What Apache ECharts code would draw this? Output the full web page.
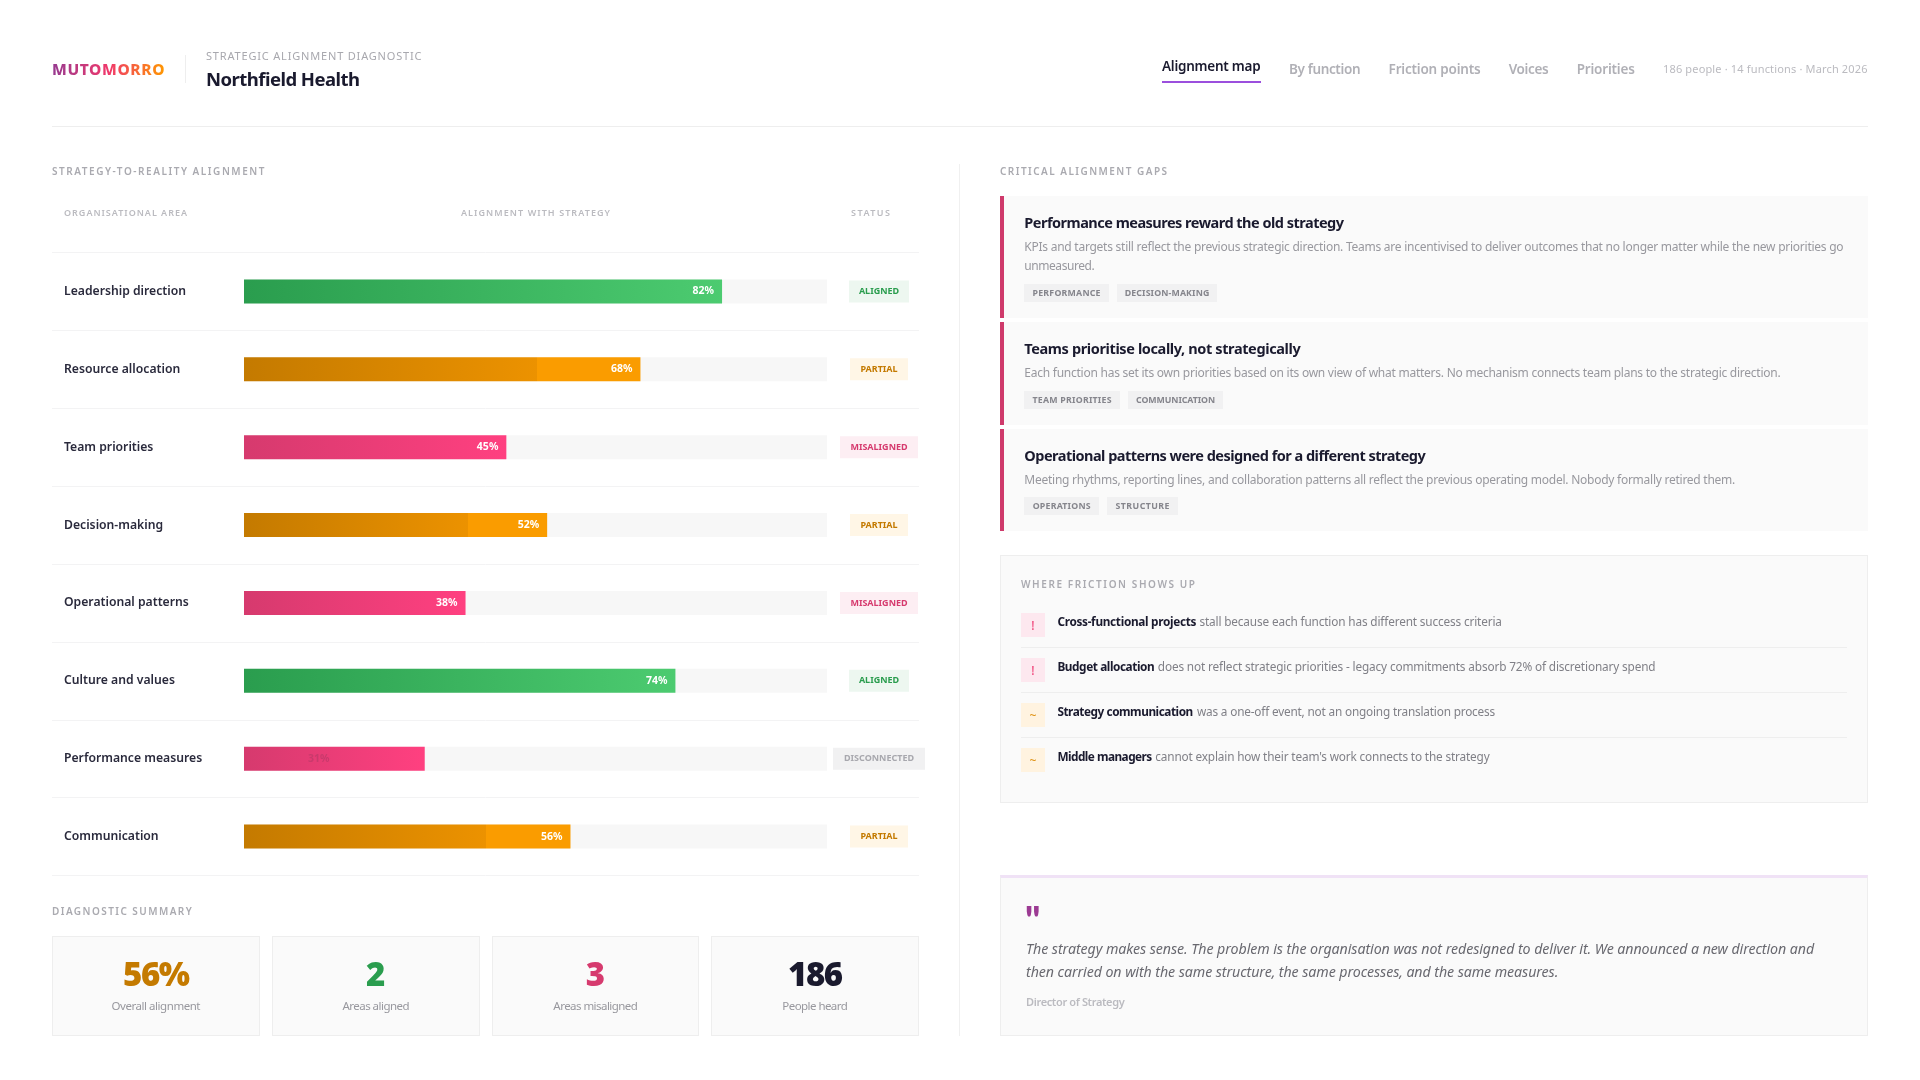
<!DOCTYPE html>
<html><head><meta charset="utf-8">
<script src="https://cdn.jsdelivr.net/npm/echarts@6/dist/echarts.min.js"></script>
<style>
html,body{margin:0;padding:0;width:1920px;height:1080px;background:#fff;overflow:hidden;font-family:"Noto Sans",Lato,sans-serif}
#chart{position:absolute;left:0;top:0;width:1920px;height:1080px}
#page{position:absolute;left:0;top:0;width:1920px;height:1080px}
.box{position:absolute;box-sizing:border-box}
.t{position:absolute;white-space:nowrap;transform:translateY(-50%);line-height:1.2}
.logo{font-size:15.5px;font-weight:800;background:linear-gradient(90deg,#963a90,#f0386b 50%,#ff9800);-webkit-background-clip:text;background-clip:text;color:transparent}
.kicker{font-size:11px;color:#a8a8ae}
.client{font-size:18.5px;font-weight:700;color:#1a1a2e}
.nav{font-size:13.5px;color:#b0b0b6;font-weight:600}
.nav.on{color:#1a1a2e}
.meta{font-size:11px;color:#bbbbc0}
.sec{font-size:10px;font-weight:600;color:#aaaab0}
.col{font-size:9px;font-weight:600;color:#bbbbc0}
.gt{font-size:14.5px;font-weight:700;color:#1a1a2e}
.gb{font-size:12px;color:#98989e}
.tag{font-size:8.8px;font-weight:700;color:#85858c}
.fb{font-size:11.8px;font-weight:700;color:#1a1a2e}
.fn{font-size:11.8px;color:#808087}
.ic{font-size:12px;font-weight:500;text-align:center}
.q{font-size:14.2px;font-style:italic;color:#68686f}
.qa{font-size:11px;font-weight:600;color:#bbbbc0}
.qm{font-family:Lato,serif;font-size:38px;font-weight:900;color:#9c3a93}
.kv{font-size:33px;font-weight:900}
.kl{font-size:11.5px;color:#98989e}
</style></head>
<body>
<div id="chart"></div>
<div id="page"></div>
<script>
// ---- chart data ----
const categories = ['Leadership direction','Resource allocation','Team priorities','Decision-making','Operational patterns','Culture and values','Performance measures','Communication'];
const alignment = [82,68,45,52,38,74,31,56];
const statuses = ['ALIGNED','PARTIAL','MISALIGNED','PARTIAL','MISALIGNED','ALIGNED','DISCONNECTED','PARTIAL'];

// ---- page text ----
const navItems = ['Alignment map','By function','Friction points','Voices','Priorities'];
const gapTitles = ['Performance measures reward the old strategy','Teams prioritise locally, not strategically','Operational patterns were designed for a different strategy'];
const gapBodies = ['KPIs and targets still reflect the previous strategic direction. Teams are incentivised to deliver outcomes that no longer matter while the new priorities go','Each function has set its own priorities based on its own view of what matters. No mechanism connects team plans to the strategic direction.','Meeting rhythms, reporting lines, and collaboration patterns all reflect the previous operating model. Nobody formally retired them.'];
const gapTags = [['PERFORMANCE','DECISION-MAKING'],['TEAM PRIORITIES','COMMUNICATION'],['OPERATIONS','STRUCTURE']];
const frictionLead = ['Cross-functional projects','Budget allocation','Strategy communication','Middle managers'];
const frictionRest = ['stall because each function has different success criteria','does not reflect strategic priorities - legacy commitments absorb 72% of discretionary spend','was a one-off event, not an ongoing translation process',"cannot explain how their team's work connects to the strategy"];
const frictionIcons = ['!','!','~','~'];
const summaryValues = ['56%','2','3','186'];
const summaryLabels = ['Overall alignment','Areas aligned','Areas misaligned','People heard'];

const page = document.getElementById('page');
function box(x,y,w,h,css){const d=document.createElement('div');d.className='box';d.style.cssText=`left:${x}px;top:${y}px;width:${w}px;height:${h}px;${css||''}`;page.appendChild(d);return d;}
// text placed by left edge + vertical centre, tracked to occupy width w
function T(x,y,w,str,cls,color){
  const s=document.createElement('span');s.className='t '+cls;s.textContent=str;
  s.style.left=x+'px';s.style.top=y+'px';if(color)s.style.color=color;page.appendChild(s);
  if(w){const cur=s.getBoundingClientRect().width;s.style.letterSpacing=((w-cur)/Math.max(str.length-1,1))+'px';}
  return s;
}

// header
T(52,69,112.5,'MUTOMORRO','logo');
box(185,55,1,28,'background:#eeeeee');
T(206,55.7,215.5,'STRATEGIC ALIGNMENT DIAGNOSTIC','kicker');
T(206,79.3,154,'Northfield Health','client');
const navX=[[1162,98.7,66],[1289,71.5,69],[1388.6,92,69],[1508.7,40,69],[1576.7,58.2,69]];
navItems.forEach((n,i)=>T(navX[i][0],navX[i][2],navX[i][1],n,'nav'+(i===0?' on':'')));
box(1162,81,99,2,'background:#9b4fdd');
T(1663,68.7,204.5,'186 people · 14 functions · March 2026','meta');
box(52,126,1816,1,'background:#eeeeee');
box(959,164,1,872,'background:#f0f0f0');

// left column headings
T(52,171,212.5,'STRATEGY-TO-REALITY ALIGNMENT','sec');
T(64,213.3,123,'ORGANISATIONAL AREA','col');
T(461,213.3,149,'ALIGNMENT WITH STRATEGY','col');
T(851,213.3,39,'STATUS','col');

// summary
T(52,911,139.7,'DIAGNOSTIC SUMMARY','sec');
const cards=[[52,207.6,'#c47a00',67,89],[272,207.5,'#2a9d4e',0,67],[492,206.7,'#d63a6e',0,84.5],[711,207.6,'#1a1a2e',55,65.5]];
summaryValues.forEach((v,i)=>{
  const c=cards[i],cx=c[0]+c[1]/2;
  box(c[0],936,c[1],100,'background:#fafafa;border:1px solid #eeeeee');
  const a=T(cx,974,c[3],v,'kv',c[2]);a.style.transform='translate(-50%,-50%)';
  const b=T(cx,1006,c[4],summaryLabels[i],'kl');b.style.transform='translate(-50%,-50%)';
});

// gap cards
T(1000,171,167,'CRITICAL ALIGNMENT GAPS','sec');
const gapBox=[[196,122],[322,103],[429,102]];
gapBox.forEach(g=>box(1000,g[0],868,g[1],'background:#fafafa;border-left:4px solid #cf3a6b'));
const gapTW=[319.7,276.4,401.4], gapTY=[222.8,349,455.8], gapBY=[246.7,372.8,479.7], gapBW=[819.3,756.4,711];
gapTitles.forEach((t,i)=>{T(1024.3,gapTY[i],gapTW[i],t,'gt');T(1024.3,gapBY[i],gapBW[i],gapBodies[i],'gb');});
T(1024.3,265.7,70.4,'unmeasured.','gb');
const tagPos=[[284,[[1024.3,84.5,68],[1116.8,100.4,84.6]]],[391,[[1024.3,95.5,79],[1127.8,95.5,79]]],[497,[[1024.3,74.7,58],[1107,71,54]]]];
tagPos.forEach((r,i)=>r[1].forEach((p,j)=>{
  box(p[0],r[0],p[1],18,'background:#f1f1f2');
  T(p[0]+(p[1]-p[2])/2,r[0]+9,p[2],gapTags[i][j],'tag');
}));

// friction
box(1000,555,868,248,'background:#fafafa;border:1px solid #eeeeee');
T(1021,584,174,'WHERE FRICTION SHOWS UP','sec');
const fY=[621,666,711,756], iY=[613,658,703,748], fBW=[139,97.3,135.9,94.9], fNX=[1199.4,1157.8,1197,1155.3], fNW=[302.6,497.8,298.2,334.4];
frictionLead.forEach((l,i)=>{
  const warn=frictionIcons[i]==='!';
  box(1021,iY[i],24,24,'background:'+(warn?'#fde8ef':'#fff3e0'));
  const g=T(1021,iY[i]+13,0,frictionIcons[i],'ic',warn?'#f0487c':'#e0961c');g.style.width='24px';
  T(1057.4,fY[i],fBW[i],l,'fb');
  T(fNX[i],fY[i],fNW[i],frictionRest[i],'fn');
  if(i<3)box(1021,iY[i]+34,826,1,'background:#eeeeee');
});

// quote
box(1000,875,868,161,'background:#fafafa;border:1px solid #eeeeee;border-top:3px solid #f0e2f6');
T(1025,920,0,'"','qm');
T(1026,949,788.2,'The strategy makes sense. The problem is the organisation was not redesigned to deliver it. We announced a new direction and','q');
T(1026,972,532.3,'then carried on with the same structure, the same processes, and the same measures.','q');
T(1026,1002,98.7,'Director of Strategy','qa');

// ---- ECharts: the alignment bars ----
const grad=(stops)=>new echarts.graphic.LinearGradient(0,0,1,0,stops);
const fills={
  ALIGNED:[{offset:0,color:'#2a9d4e'},{offset:1,color:'#4ccb70'}],
  PARTIAL:[{offset:0,color:'#c47a00'},{offset:.74,color:'#ec9200'},{offset:.74,color:'#fa9c00'},{offset:1,color:'#fa9c00'}],
  MISALIGNED:[{offset:0,color:'#d63a6e'},{offset:1,color:'#ff4080'}],
  DISCONNECTED:[{offset:0,color:'#d63a6e'},{offset:1,color:'#ff4080'}]
};
const pill=(w,fg,bg)=>({width:w,height:10,lineHeight:10,padding:[6,0],align:'center',color:fg,backgroundColor:bg,fontFamily:'Noto Sans',fontSize:9,fontWeight:700});
const chart=echarts.init(document.getElementById('chart'),null,{renderer:'canvas'});
const T0=252.5,H0=623;
chart.setOption({
  animation:false,
  grid:[{left:244,top:T0,width:583,height:H0},{left:52,top:T0,width:867,height:H0}],
  xAxis:[{gridIndex:0,type:'value',min:0,max:100,show:false},{gridIndex:1,type:'value',min:0,max:100,show:false}],
  yAxis:[
    {gridIndex:0,type:'category',inverse:true,data:categories,axisLine:{show:false},axisTick:{show:false},
     axisLabel:{margin:180,align:'left',color:'#2a2a3c',fontFamily:'Noto Sans',fontSize:12.2,fontWeight:600}},
    {gridIndex:0,type:'category',inverse:true,position:'right',data:statuses,axisLine:{show:false},axisTick:{show:false},
     axisLabel:{margin:52,align:'center',formatter:v=>'{'+v+'|'+v+'}',
       rich:{ALIGNED:pill(60,'#2a9d4e','#edf7f0'),PARTIAL:pill(58,'#c47a00','#fff6e6'),MISALIGNED:pill(78,'#d63a6e','#fdeef3'),DISCONNECTED:pill(92,'#a8a8ae','#f1f1f2')}}},
    {gridIndex:1,type:'category',inverse:true,data:categories,axisLine:{show:false},axisTick:{show:false},axisLabel:{show:false},
     splitLine:{show:true,lineStyle:{color:'#f3f3f4',width:1}}}
  ],
  series:[{
    type:'bar',xAxisIndex:0,yAxisIndex:0,barWidth:24,
    showBackground:true,backgroundStyle:{color:'#f7f7f7'},
    label:{show:true,position:'insideRight',distance:8,formatter:'{c}%',color:'#ffffff',fontFamily:'Noto Sans',fontSize:10.5,fontWeight:700},
    data:alignment.map((v,i)=>{
      const dim=statuses[i]==='DISCONNECTED';
      return {value:v,itemStyle:{color:grad(fills[statuses[i]])},
        label:dim?{position:[64,12],verticalAlign:'middle',color:'#c93a6c'}:undefined};
    })
  }]
});
</script>
</body></html>
